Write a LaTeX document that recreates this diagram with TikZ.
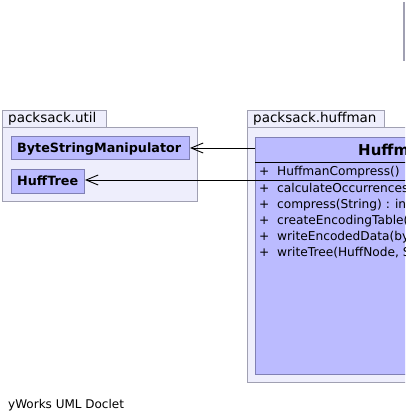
\documentclass[tikz,border=0pt]{standalone}
\usepackage{fontspec}
\setmainfont{DejaVu Sans}
\usetikzlibrary{arrows.meta}
\definecolor{pkgfill}{RGB}{238,238,252}
\definecolor{pkgline}{RGB}{160,160,178}
\definecolor{clsfill}{RGB}{187,187,255}
\definecolor{clsline}{RGB}{128,128,180}
\tikzset{
  pkgbox/.style={draw=pkgline, fill=pkgfill, line width=1pt, inner sep=0pt, anchor=north west, rectangle},
  clsbox/.style={draw=clsline, fill=clsfill, line width=1pt, inner sep=0pt, anchor=north west, rectangle},
  pkglabel/.style={anchor=base west, inner sep=0pt, font=\fontsize{13.5}{14}\selectfont},
  clslabel/.style={anchor=base west, inner sep=0pt, font=\bfseries\fontsize{12.75}{14}\selectfont},
  member/.style={anchor=base west, inner sep=0pt, font=\fontsize{12.2}{14}\selectfont},
  dep/.style={draw=black, line width=0.9pt, -{Straight Barb[length=12pt,width=10pt,line width=0.9pt]}}
}
\begin{document}
\begin{tikzpicture}[x=1pt,y=-1pt]
\useasboundingbox (0,0) rectangle (405,420);
\clip (0,0) rectangle (405,420);
% package util
\node[pkgbox, minimum width=104pt, minimum height=17pt] (utiltab) at (2,110) {};
\node[pkgbox, minimum width=195pt, minimum height=74pt] (utilbody) at (2,127) {};
\node[pkglabel] (utillbl) at (8,122.5) {packsack.util};
\node[clsbox, minimum width=178pt, minimum height=23pt] (bsm) at (11,136) {};
\node[clslabel] (bsmlbl) at (17,152.5) {ByteStringManipulator};
\node[clsbox, minimum width=73pt, minimum height=24pt] (ht) at (11,169) {};
\node[clslabel] (htlbl) at (17,185.5) {HuffTree};
% package huffman
\node[pkgbox, minimum width=137pt, minimum height=17pt] (hufftab) at (247,110) {};
\node[pkgbox, minimum width=180pt, minimum height=255pt] (huffbody) at (247,127) {};
\node[pkglabel] (hufflbl) at (253,122.5) {packsack.huffman};
\node[clsbox, minimum width=180pt, minimum height=237pt] (hc) at (255,137) {};
\node[anchor=base west, inner sep=0pt, font=\bfseries\fontsize{15}{16}\selectfont] (hctitle) at (358,155.5) {HuffmanCompress};
\coordinate (s1a) at (255,162);
\coordinate (s1b) at (420,162);
\coordinate (s2a) at (255,180);
\coordinate (s2b) at (420,180);
\draw[black, line width=0.9pt] (s1a) -- (s1b);
\draw[black, line width=0.9pt] (s2a) -- (s2b);
\node[member] (m0) at (259,175.5) {+\ \ HuffmanCompress()};
\node[member] (m1) at (259,192) {+\ \ calculateOccurrences(byte[])};
\node[member] (m2) at (259,208) {+\ \ compress(String) : int};
\node[member] (m3) at (259,224) {+\ \ createEncodingTable(HuffNode)};
\node[member] (m4) at (259,240) {+\ \ writeEncodedData(byte[])};
\node[member] (m5) at (259,256) {+\ \ writeTree(HuffNode, String)};
% dependencies
\coordinate (d1) at (hc.west |- bsm.east);
\coordinate (d2) at (255,180);
\draw[dep] (d1) -- (bsm.east);
\draw[dep] (d2) -- (ht.east |- d2);
% right-edge element
\coordinate (r1) at (404,2);
\coordinate (r2) at (404,61);
\draw[pkgline, line width=1.2pt] (r1) -- (r2);
\node[anchor=base west, inner sep=0pt, font=\fontsize{12}{14}\selectfont] (footer) at (8,408) {yWorks UML Doclet};
\end{tikzpicture}
\end{document}
